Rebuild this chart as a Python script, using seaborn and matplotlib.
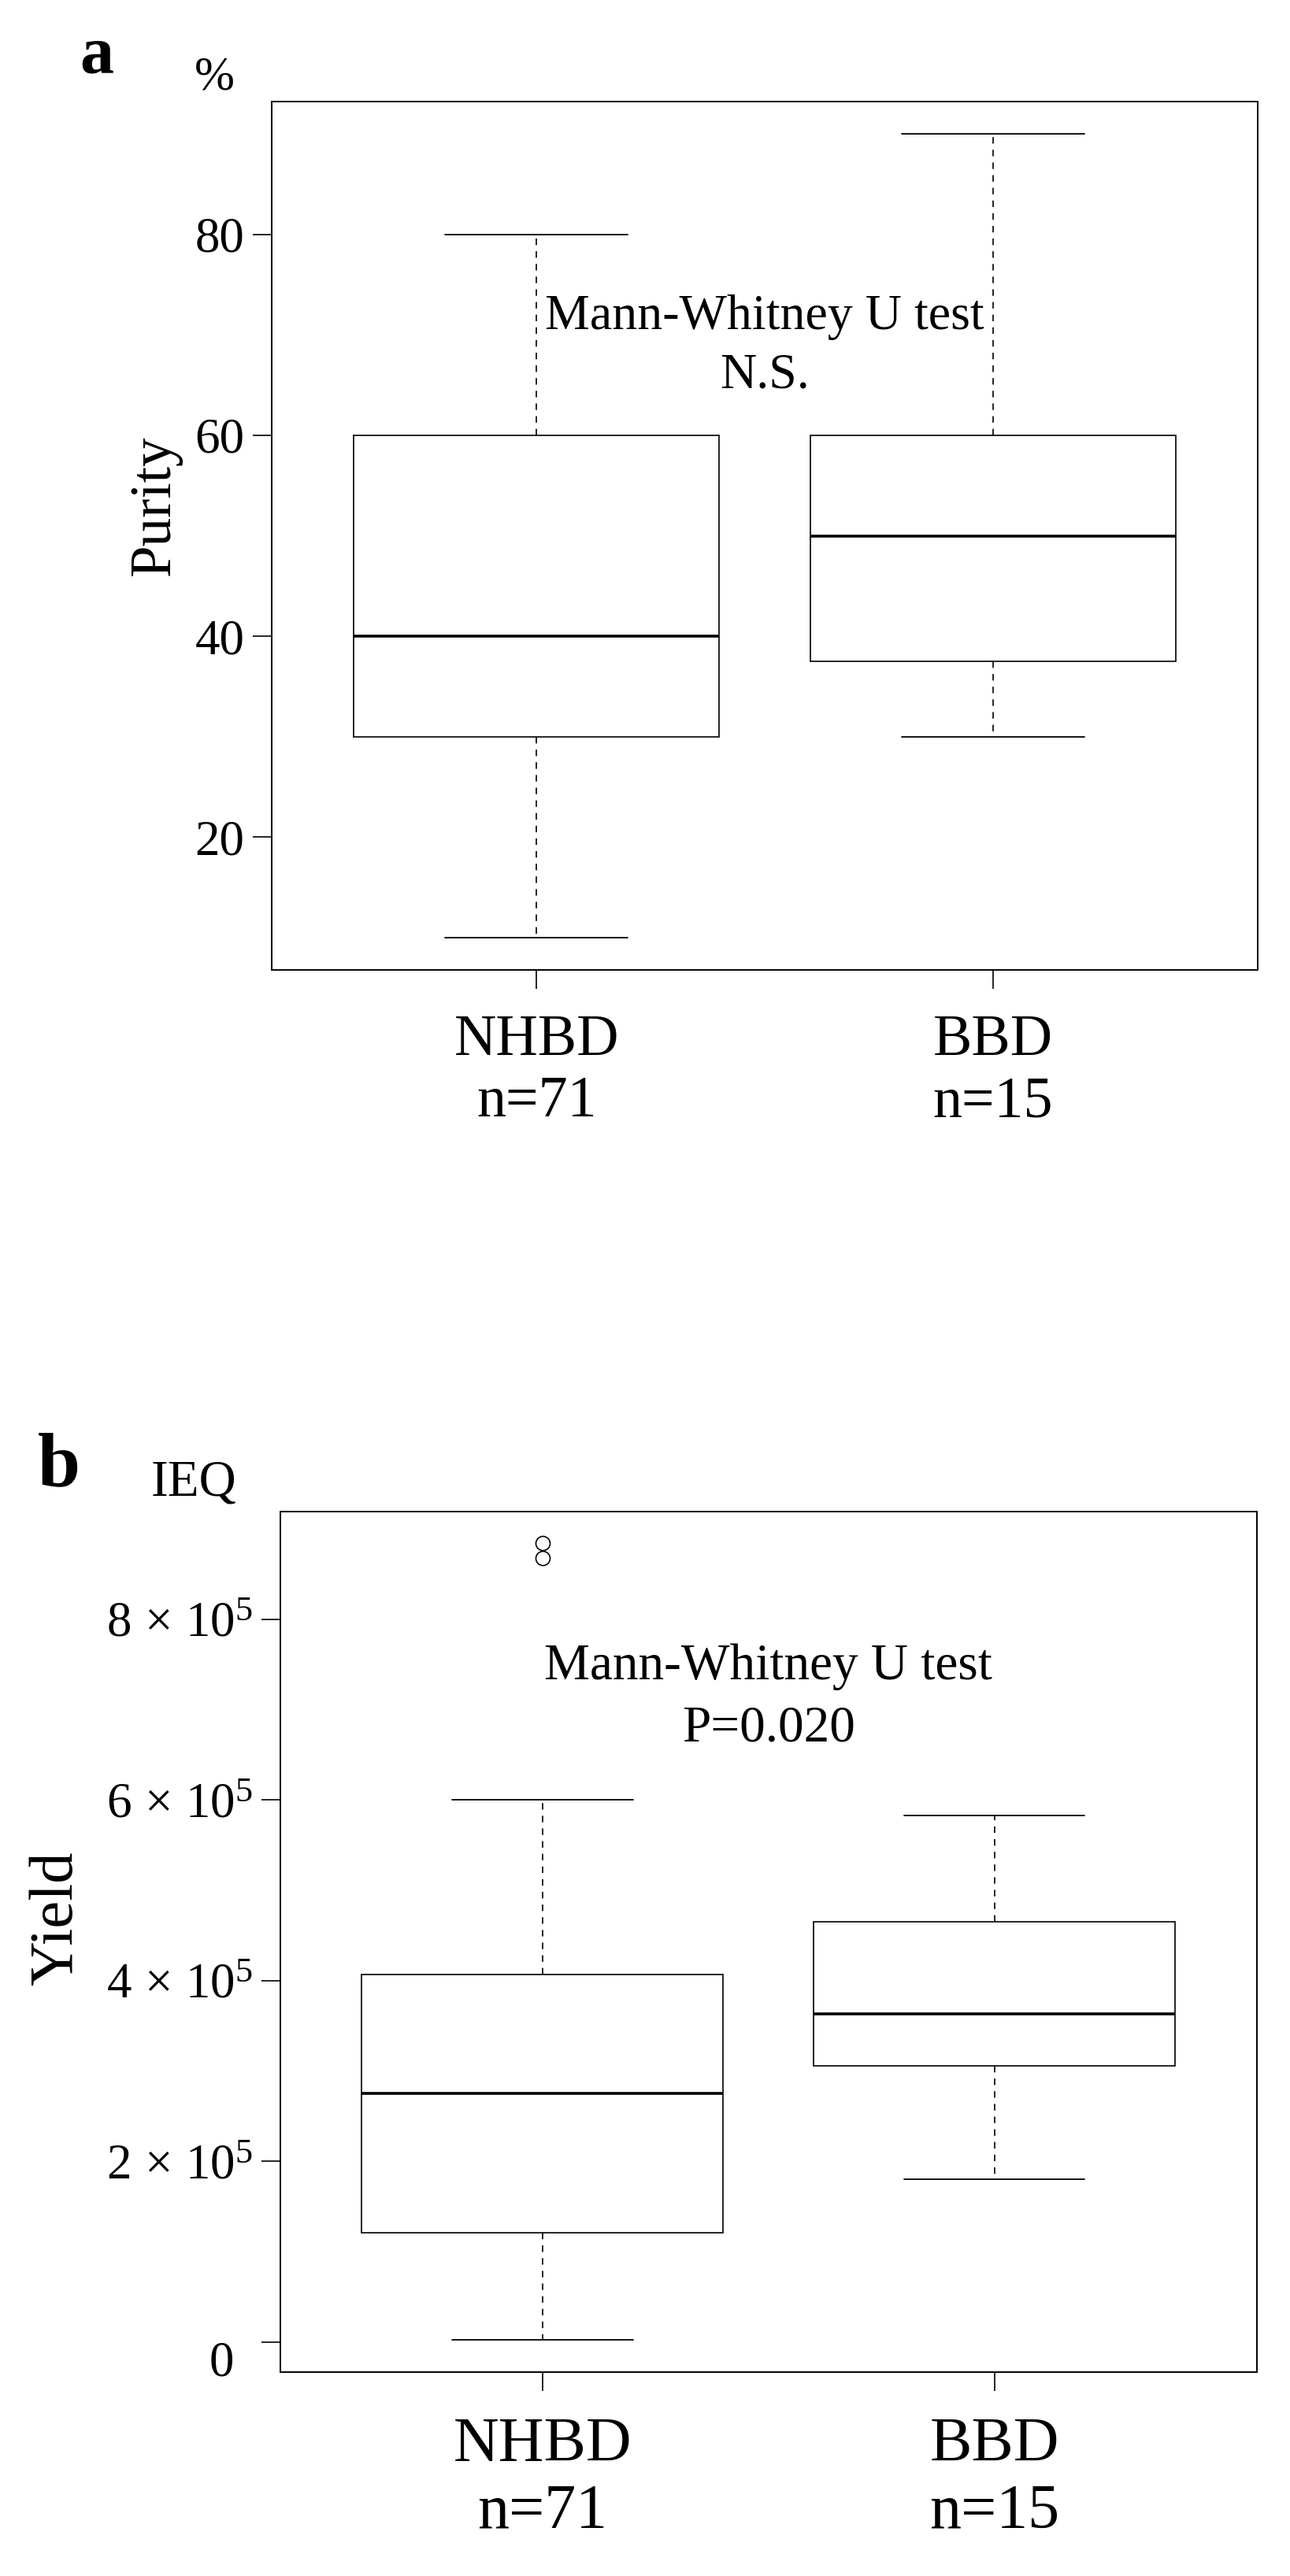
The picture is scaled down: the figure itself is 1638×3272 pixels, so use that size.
import numpy as np
import pandas as pd
import matplotlib
matplotlib.use('Agg')
import matplotlib.pyplot as plt
import matplotlib.transforms as mtransforms
from matplotlib.ticker import FixedLocator, FuncFormatter
import seaborn as sns

# Values
# five-number summaries: lower whisker, Q1, median, Q3, upper whisker
groups = ['NHBD', 'BBD']
group_n = [71, 15]

purity_nhbd = [10, 30, 40, 60, 80]
purity_bbd = [30, 37.5, 50, 60, 90]
purity_out_nhbd = []
purity_out_bbd = []

yield_nhbd = [2000, 121000, 275000, 407000, 600000]
yield_bbd = [180000, 306000, 363000, 465000, 583000]
yield_out_nhbd = [868000, 884000]
yield_out_bbd = []

purity_ticks = [20, 40, 60, 80]
yield_ticks = [0, 200000, 400000, 600000, 800000]

test_name = 'Mann-Whitney U test'
purity_result = 'N.S.'
yield_result = 'P=0.020'


def sample_from_summary(summary, outliers, k=50):
    # repeat the hinges so the library's own quartiles fall on the read values
    lo, q1, med, q3, hi = summary
    return [lo] + [q1] * k + [med] * k + [q3] * k + [hi] + list(outliers)


def long_table(summaries, outliers):
    rows = []
    for g, s, o in zip(groups, summaries, outliers):
        for v in sample_from_summary(s, o):
            rows.append((g, v))
    return pd.DataFrame(rows, columns=['group', 'value'])


def r_ylim(summaries, outliers):
    vals = [v for s in summaries for v in s] + [v for o in outliers for v in o]
    lo, hi = min(vals), max(vals)
    pad = 0.04 * (hi - lo)
    return lo - pad, hi + pad


sns.set_style('ticks')
plt.rcParams['font.family'] = ['Liberation Serif', 'DejaVu Serif']
plt.rcParams['mathtext.fontset'] = 'custom'
plt.rcParams['mathtext.rm'] = 'Liberation Serif'
plt.rcParams['mathtext.it'] = 'Liberation Serif:italic'
plt.rcParams['mathtext.bf'] = 'Liberation Serif:bold'
plt.rcParams['lines.scale_dashes'] = False
plt.rcParams['axes.linewidth'] = 0.7
for key in ['text.color', 'axes.labelcolor', 'xtick.color', 'ytick.color', 'axes.edgecolor']:
    plt.rcParams[key] = 'black'

DPI = 200
fig = plt.figure(figsize=(8.19, 16.36), dpi=DPI)
fig.patch.set_facecolor('white')

ax_a = fig.add_axes([0.2106, 0.6235, 0.7643, 0.3370])
ax_b = fig.add_axes([0.2173, 0.0792, 0.7568, 0.3340])


def draw_panel(ax, summaries, outliers, ticks, xfs):
    df = long_table(summaries, outliers)
    sns.boxplot(data=df, x='group', y='value', order=groups, ax=ax,
                width=0.8, whis=1.5, color='white', linecolor='black',
                linewidth=0.6, fliersize=6.5,
                boxprops=dict(facecolor='white', edgecolor='black', linewidth=0.6),
                whiskerprops=dict(color='black', linewidth=0.6, linestyle=(0, (3.0, 2.8))),
                capprops=dict(color='black', linewidth=0.65),
                medianprops=dict(color='black', linewidth=1.3),
                flierprops=dict(marker='o', markerfacecolor='none',
                                markeredgecolor='black', markeredgewidth=0.6))
    ax.set_xlim(-0.58, 1.58)
    ax.set_ylim(*r_ylim(summaries, outliers))
    for sp in ax.spines.values():
        sp.set_visible(True)
        sp.set_linewidth(0.7)
        sp.set_color('black')
    ax.tick_params(axis='both', direction='out', length=8.5, width=0.6, colors='black')
    ax.tick_params(axis='y', pad=4, labelsize=22.7)
    ax.tick_params(axis='x', pad=12, labelsize=xfs)
    ax.set_xticks([0, 1])
    ax.set_xticklabels([f'{g}\nn={n}' for g, n in zip(groups, group_n)])
    ax.set_xlabel('')
    ax.yaxis.set_major_locator(FixedLocator(ticks))


# panel a: purity
draw_panel(ax_a, [purity_nhbd, purity_bbd], [purity_out_nhbd, purity_out_bbd],
           purity_ticks, 26.6)
ax_a.set_ylabel('Purity', fontsize=26.3)
ax_a.yaxis.set_label_coords(-0.091, 0.535)
ax_a.text(0.5, 70.6, test_name, ha='center', va='baseline', fontsize=23)
ax_a.text(0.5, 64.7, purity_result, ha='center', va='baseline', fontsize=23)

# panel b: yield
draw_panel(ax_b, [yield_nhbd, yield_bbd], [yield_out_nhbd, yield_out_bbd],
           yield_ticks, 28.8)


def sci_fmt(v, pos):
    if v == 0:
        return '0'
    return r'$%d\,\times\,10^{5}$' % round(v / 1e5)


ax_b.yaxis.set_major_formatter(FuncFormatter(sci_fmt))
ax_b.set_ylabel('Yield', fontsize=28.3)
ax_b.yaxis.set_label_coords(-0.1996, 0.527)
ax_b.text(0.5, 733300, test_name, ha='center', va='baseline', fontsize=23.5)
ax_b.text(0.5, 665600, yield_result, ha='center', va='baseline', fontsize=23.5)

# the zero label sits lower and further left in the original
zero_lab = ax_b.yaxis.get_major_ticks()[0].label1
zero_lab.set_transform(zero_lab.get_transform() +
                       mtransforms.ScaledTranslation(-24 / DPI, -21 / DPI, fig.dpi_scale_trans))

# panel letters and units
fig.text(101 / 1638, 1 - 92.5 / 3272, 'a', fontsize=31, fontweight='bold', ha='left', va='baseline')
fig.text(272.5 / 1638, 1 - 113 / 3272, '%', fontsize=22, ha='center', va='baseline')
fig.text(48 / 1638, 1 - 1887 / 3272, 'b', fontsize=35, fontweight='bold', ha='left', va='baseline')
fig.text(192 / 1638, 1 - 1900 / 3272, 'IEQ', fontsize=23.5, ha='left', va='baseline')

fig.savefig('out.png', dpi=DPI, facecolor='white')
